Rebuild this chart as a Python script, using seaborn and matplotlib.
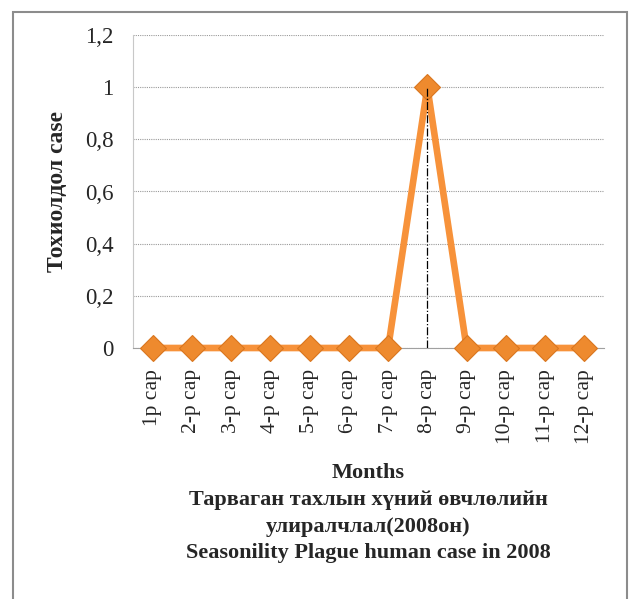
import matplotlib
matplotlib.use("Agg")
import matplotlib.pyplot as plt
import seaborn as sns
import pandas as pd
from matplotlib.patches import Rectangle

months = ["1р сар", "2-р сар", "3-р сар", "4-р сар", "5-р сар", "6-р сар",
          "7-р сар", "8-р сар", "9-р сар", "10-р сар", "11-р сар", "12-р сар"]
cases = [0, 0, 0, 0, 0, 0, 0, 1, 0, 0, 0, 0]
y_ticks = [0, 0.2, 0.4, 0.6, 0.8, 1.0, 1.2]
y_tick_labels = ["0", "0,2", "0,4", "0,6", "0,8", "1", "1,2"]

sns.set_theme(style="white")
plt.rcParams['font.family'] = ['Liberation Serif', 'DejaVu Serif']

df = pd.DataFrame({"month": months, "cases": cases})

fig = plt.figure(figsize=(6.32, 5.99), dpi=100)
ax = fig.add_axes([133/632, 1-348/599, (604-133)/632, (348-35)/599])

# outer frame
fig.patches.append(Rectangle((13/632, -0.05), (627-13)/632, 1.05 - 12/599,
                             transform=fig.transFigure, fill=False,
                             edgecolor="#8c8c8c", linewidth=1.5))

ax.set_ylim(0, 1.2)
ax.set_xlim(-0.5, len(months) - 0.5)
ax.set_yticks(y_ticks)
ax.yaxis.grid(True, linestyle=(0, (1, 1)), color="#9a9a9a", linewidth=0.8)
ax.set_axisbelow(True)

sns.lineplot(data=df, x="month", y="cases", sort=False, ax=ax,
             color="#F7923A", linewidth=4.8, marker="D", markersize=13.5,
             markerfacecolor="#EE8A2E", markeredgecolor="#D9761F",
             markeredgewidth=0.8, zorder=3, clip_on=False)

peak = cases.index(max(cases))
ax.vlines(months[peak], 0, cases[peak], colors="black", linestyles="dashdot",
          linewidth=0.9, zorder=4)

ax.set_yticklabels(y_tick_labels, fontsize=16.5)
ax.tick_params(axis="y", length=0, pad=14)
ax.tick_params(axis="x", length=0, pad=15)
plt.setp(ax.get_xticklabels(), rotation=90, fontsize=15.5)

for s in ["top", "right"]:
    ax.spines[s].set_visible(False)
ax.spines["left"].set_color("#c8c8c8")
ax.spines["bottom"].set_color("#a0a0a0")
ax.spines["left"].set_linewidth(0.8)
ax.spines["bottom"].set_linewidth(0.8)

ax.set_ylabel("Тохиолдол case", fontsize=17, fontweight="bold", labelpad=12)
ax.set_xlabel("Months\nТарваган тахлын хүний өвчлөлийн\nулиралчлал(2008он)\nSeasonility Plague human case in 2008",
              fontsize=16, fontweight="bold", labelpad=14, linespacing=1.45)

fig.savefig("out.png", dpi=100, facecolor="white")
